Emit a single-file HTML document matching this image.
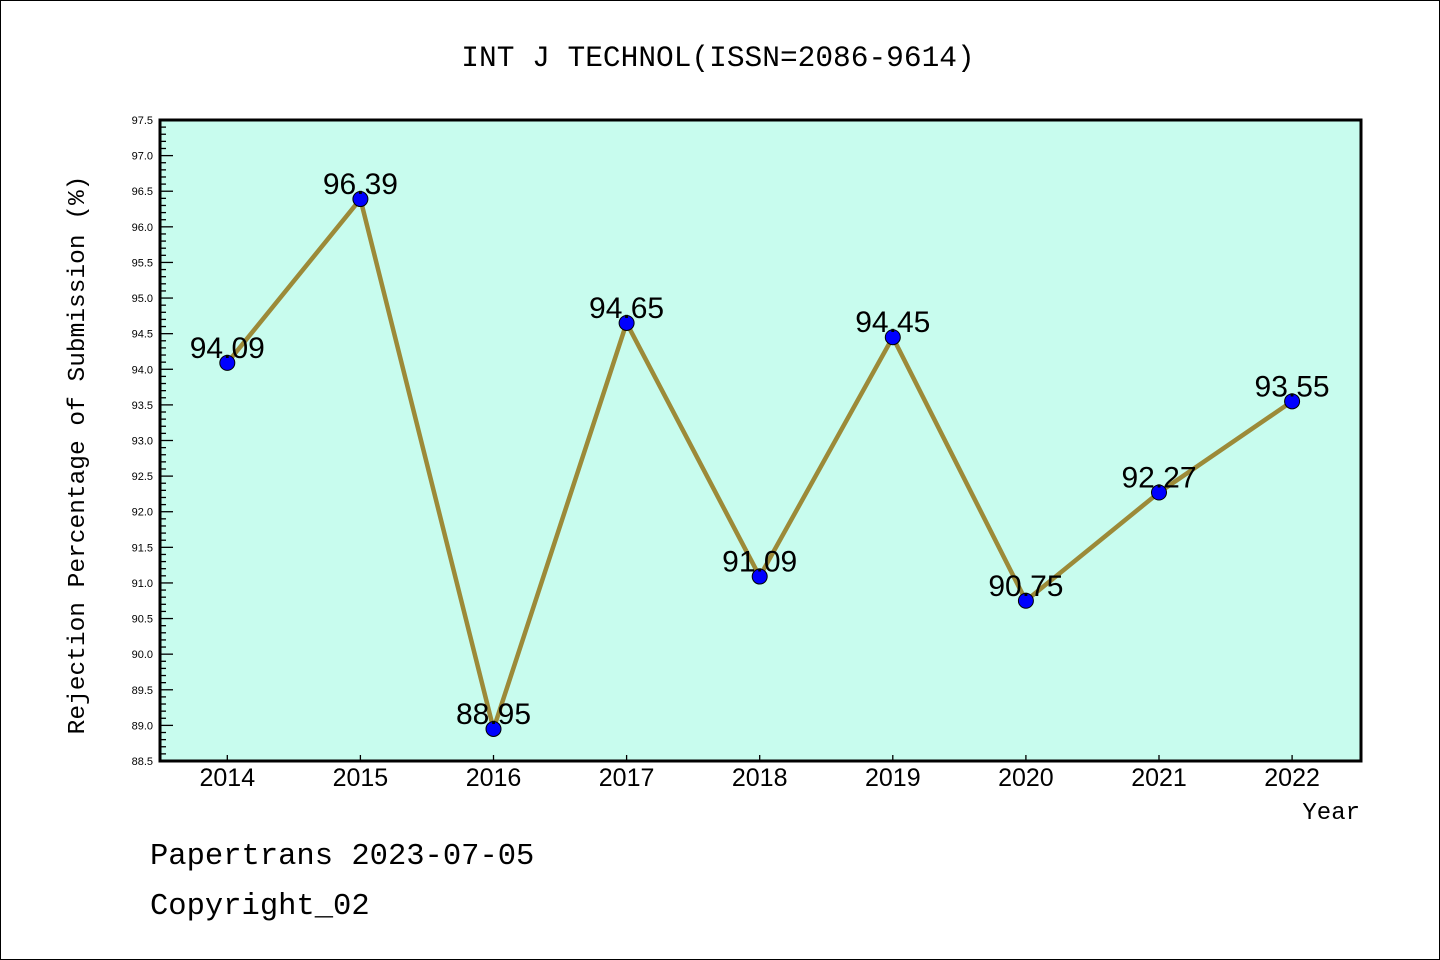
<!DOCTYPE html>
<html><head><meta charset="utf-8"><style>
html,body{margin:0;padding:0;background:#fff}
svg{display:block}
</style></head><body>
<svg id="chart" width="1440" height="960" xmlns="http://www.w3.org/2000/svg">
<rect x="0.5" y="0.5" width="1439" height="959" fill="#fff" stroke="#000"/>
<text x="718" y="66" font-family="Liberation Mono, monospace" font-size="29.5" text-anchor="middle">INT J TECHNOL(ISSN=2086-9614)</text>
<rect x="160" y="120" width="1201" height="641" fill="#c8fcee"/>
<g id="yticks"></g><g id="xticks"></g>
<g id="series"></g>
<rect x="160" y="120" width="1201" height="641" fill="none" stroke="#000" stroke-width="3"/>
<text transform="translate(84,455) rotate(-90)" font-family="Liberation Mono, monospace" font-size="24.5" text-anchor="middle">Rejection Percentage of Submission (%)</text>
<text x="1360" y="819" font-family="Liberation Mono, monospace" font-size="24" text-anchor="end">Year</text>
<text x="150" y="864" font-family="Liberation Mono, monospace" font-size="30.5">Papertrans 2023-07-05</text>
<text x="150" y="914" font-family="Liberation Mono, monospace" font-size="30.5">Copyright_02</text>
</svg>
<script>
const years=["2014","2015","2016","2017","2018","2019","2020","2021","2022"];
const values=[94.09,96.39,88.95,94.65,91.09,94.45,90.75,92.27,93.55];
const labels=["94.09","96.39","88.95","94.65","91.09","94.45","90.75","92.27","93.55"];
const yMin=88.5,yMax=97.5;
const NS="http://www.w3.org/2000/svg";
const L=160,R=1361,T=120,B=761;
const x0=227.3,dx=133.1;
function xs(i){return x0+i*dx;}
function ys(v){return B-(v-yMin)/(yMax-yMin)*(B-T);}
function mk(t,a,p){const e=document.createElementNS(NS,t);for(const k in a)e.setAttribute(k,a[k]);p.appendChild(e);return e;}
const yg=document.getElementById('yticks');
for(let k=0;k<=90;k++){const v=yMin+k*0.1;const y=ys(v);const major=k%5===0;
 const l=mk('line',{x1:L,x2:L+(major?13:6),y1:y,y2:y,stroke:'#000','stroke-width':1.3},yg);
 
 if(major){const t=mk('text',{x:153,y:y+4,'font-family':'Liberation Sans, sans-serif','font-size':11,'text-anchor':'end'},yg);t.textContent=v.toFixed(1);
 }}
const xg=document.getElementById('xticks');
years.forEach((yr,i)=>{const x=xs(i);
 const l=mk('line',{x1:x,x2:x,y1:B,y2:B-6,stroke:'#000','stroke-width':1.3},xg);
 
 const t=mk('text',{x:x,y:786,'font-family':'Liberation Sans, sans-serif','font-size':25,'text-anchor':'middle'},xg);t.textContent=yr;
 });
const sg=document.getElementById('series');
const pl=mk('polyline',{points:values.map((v,i)=>xs(i)+','+ys(v)).join(' '),fill:'none',stroke:'#9c8a38','stroke-width':4.5,'stroke-linejoin':'round'},sg);

values.forEach((v,i)=>{const c=mk('circle',{cx:xs(i),cy:ys(v),r:7.5,fill:'#0000ff',stroke:'#000','stroke-width':1},sg);
 });
values.forEach((v,i)=>{const t=mk('text',{x:xs(i),y:ys(v)-5,'font-family':'Liberation Sans, sans-serif','font-size':30,'text-anchor':'middle'},sg);t.textContent=labels[i];
 });
</script>
</body></html>
